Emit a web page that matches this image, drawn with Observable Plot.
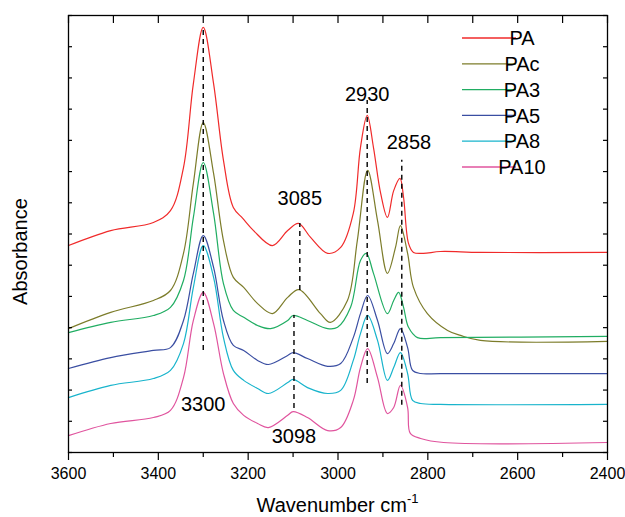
<!DOCTYPE html>
<html><head><meta charset="utf-8">
<script src="https://cdn.jsdelivr.net/npm/d3@7"></script>
<script src="https://cdn.jsdelivr.net/npm/@observablehq/plot@0.6"></script>
<style>
body{margin:0;background:#fff;}
#chart{position:relative;width:625px;height:517px;}
</style>
</head><body><div id="chart"></div>
<script>
const seriesNames = ["PA","PAc","PA3","PA5","PA8","PA10"];
const seriesColors = ["#f02a2a","#7c7c2a","#20ad62","#3a4ea2","#18b4cc","#e0549e"];

const wnPA  = [3600,3506,3411,3373,3344,3322,3300,3277,3255,3233,3212,3188,3146,3112,3088,3061,3023,2994,2966,2950,2935,2921,2905,2890,2876,2862,2854,2843,2832,2810,2772,2683,2400];
const absPA = [6.63,7.11,7.37,7.75,9.13,11.82,13.62,11.82,9.36,7.85,7.50,7.11,6.63,7.11,7.34,6.89,6.38,6.57,7.66,9.77,10.80,9.77,8.30,7.53,8.39,8.78,8.17,6.70,6.41,6.38,6.44,6.41,6.41];

const wnPAc  = [3600,3506,3411,3373,3344,3322,3300,3277,3255,3233,3210,3179,3146,3112,3087,3039,3017,2979,2957,2934,2912,2890,2872,2861,2845,2832,2801,2756,2727,2683,2400];
const absPAc = [3.97,4.49,4.87,5.19,6.38,8.62,10.57,8.94,6.79,5.61,5.29,4.77,4.45,4.97,5.22,4.45,4.17,4.87,6.79,9.04,7.43,5.74,6.57,7.27,6.38,5.29,4.45,3.91,3.75,3.59,3.56];

const wnPA3  = [3600,3506,3411,3373,3344,3322,3300,3277,3255,3233,3210,3179,3150,3112,3100,3068,3023,3001,2972,2950,2937,2921,2890,2876,2865,2854,2843,2823,2772,2400];
const absPA3 = [3.84,4.17,4.39,4.65,5.51,7.53,9.29,7.66,5.41,4.55,4.33,4.07,3.97,4.23,4.39,4.23,3.97,4.01,4.65,6.15,6.38,5.74,4.45,4.87,5.13,4.65,4.01,3.68,3.68,3.72];

const wnPA5  = [3600,3506,3411,3373,3344,3322,3300,3277,3255,3233,3210,3179,3155,3112,3100,3068,3023,2994,2966,2950,2934,2912,2890,2876,2861,2845,2834,2816,2772,2400];
const absPA5 = [2.69,3.04,3.27,3.36,4.23,5.74,6.95,5.93,4.23,3.43,3.27,2.95,2.82,3.11,3.20,3.01,2.76,2.85,3.68,4.45,5.03,4.23,3.17,3.49,3.97,3.36,2.63,2.53,2.53,2.53];

const wnPA8  = [3600,3506,3411,3373,3344,3322,3300,3277,3255,3233,3210,3179,3155,3112,3100,3068,3023,2994,2966,2950,2934,2912,2890,2876,2861,2845,2834,2816,2772,2400];
const absPA8 = [1.76,2.15,2.37,2.63,3.49,5.29,6.63,5.61,3.68,2.63,2.31,2.05,1.89,2.24,2.34,2.08,1.89,1.99,2.95,3.81,4.39,3.59,2.31,2.72,3.20,2.53,1.67,1.57,1.54,1.54];

const wnPA10  = [3600,3506,3411,3373,3344,3322,3300,3277,3255,3233,3210,3179,3155,3112,3100,3068,3023,2994,2966,2950,2934,2912,2890,2876,2861,2845,2839,2816,2765,2400];
const absPA10 = [0.54,0.93,1.12,1.35,2.40,4.23,5.13,4.13,2.53,1.57,1.19,0.93,0.80,1.19,1.31,1.12,0.70,0.80,1.67,2.72,3.33,2.40,1.25,1.44,2.15,1.44,0.61,0.45,0.32,0.32];

// peak marker lines: wavenumber, bottom and top (absorbance units)
const markWn  = [3300, 3085, 3098, 2935, 2858];
const markLo  = [3.27, 5.19, 1.41, 2.21, 1.51];
const markHi  = [13.59, 7.34, 4.39, 11.28, 9.36];

// peak labels
const labelText = ["3300","3098","3085","2930","2858"];
const labelWn   = [3300, 3098, 3085, 2935, 2842];
const labelAbs  = [1.54, 0.50, 8.14, 11.47, 9.93];

const xMajor = [3600,3400,3200,3000,2800,2600,2400];
const xMinor = [3500,3300,3100,2900,2700,2500];
const xTop   = d3.range(3600, 2399, -100);
const yTicks = d3.range(0, 15, 1);

const wnSets  = [wnPA, wnPAc, wnPA3, wnPA5, wnPA8, wnPA10];
const absSets = [absPA, absPAc, absPA3, absPA5, absPA8, absPA10];
const rows = [];
seriesNames.forEach((s, i) => wnSets[i].forEach((w, j) => rows.push({series: s, wn: w, abs: absSets[i][j]})));
const marks = markWn.map((w, i) => ({wn: w, lo: markLo[i], hi: markHi[i]}));
const labels = labelText.map((t, i) => ({text: t, wn: labelWn[i], abs: labelAbs[i]}));

const W = 625, H = 517, ML = 68, MR = 18, MT = 15, MB = 65;
const FW = W - ML - MR, FH = H - MT - MB;

const chart = Plot.plot({
  width: W, height: H,
  marginLeft: ML, marginRight: MR, marginTop: MT, marginBottom: MB,
  style: {fontFamily: "'Liberation Sans', Arial, sans-serif", color: "black", background: "white"},
  x: {domain: [3600, 2400]},
  y: {domain: [0, 14], axis: null},
  color: {domain: seriesNames, range: seriesColors},
  marks: [
    Plot.line(rows, {x: "wn", y: "abs", z: "series", stroke: "series", strokeWidth: 1.2, curve: "catmull-rom"}),
    Plot.ruleX(marks, {x: "wn", y1: "lo", y2: "hi", stroke: "black", strokeWidth: 1.4, strokeDasharray: "5,4"}),
    Plot.text(labels, {x: "wn", y: "abs", text: "text", fontSize: 20, fill: "black"}),
    Plot.frame({stroke: "black", strokeWidth: 1.3}),
    Plot.axisX({ticks: xMajor, tickSize: 8, tickPadding: 7, fontSize: 16, tickFormat: d => String(d), label: null, strokeWidth: 1.2}),
    Plot.axisX({ticks: xMinor, tickSize: 5, tickFormat: () => "", label: null, strokeWidth: 1.2}),
    Plot.tickX(xTop, {x: d => d, insetBottom: FH - 8, stroke: "black", strokeWidth: 1.2}),
    Plot.tickY(yTicks, {y: d => d, insetRight: FW - 4, stroke: "black", strokeWidth: 1.2}),
    Plot.tickY(yTicks, {y: d => d, insetLeft: FW - 4, stroke: "black", strokeWidth: 1.2})
  ]
});
document.getElementById("chart").appendChild(chart);

const svg = d3.select(chart);
const font = "'Liberation Sans', Arial, sans-serif";
// x title
const xt = svg.append("text").attr("x", ML + FW / 2).attr("y", 512).attr("text-anchor", "middle")
  .attr("font-family", font).attr("font-size", 20).attr("fill", "black");
xt.append("tspan").text("Wavenumber cm");
xt.append("tspan").attr("dy", -9).attr("font-size", 13).text("-1");
// y title
svg.append("text").attr("transform", `translate(27,${MT + FH / 2 + 18}) rotate(-90)`)
  .attr("text-anchor", "middle").attr("font-family", font).attr("font-size", 20).attr("fill", "black")
  .text("Absorbance");
// legend
const lg = svg.append("g");
seriesNames.forEach((s, i) => {
  const y = 38 + i * 25.8;
  lg.append("line").attr("x1", 462).attr("x2", 516).attr("y1", y).attr("y2", y)
    .attr("stroke", seriesColors[i]).attr("stroke-width", 1.3);
  lg.append("text").attr("x", 522).attr("y", y).attr("dy", "0.36em")
    .attr("font-family", font).attr("font-size", 20).attr("fill", "black").text(s);
});
</script>
</body></html>
